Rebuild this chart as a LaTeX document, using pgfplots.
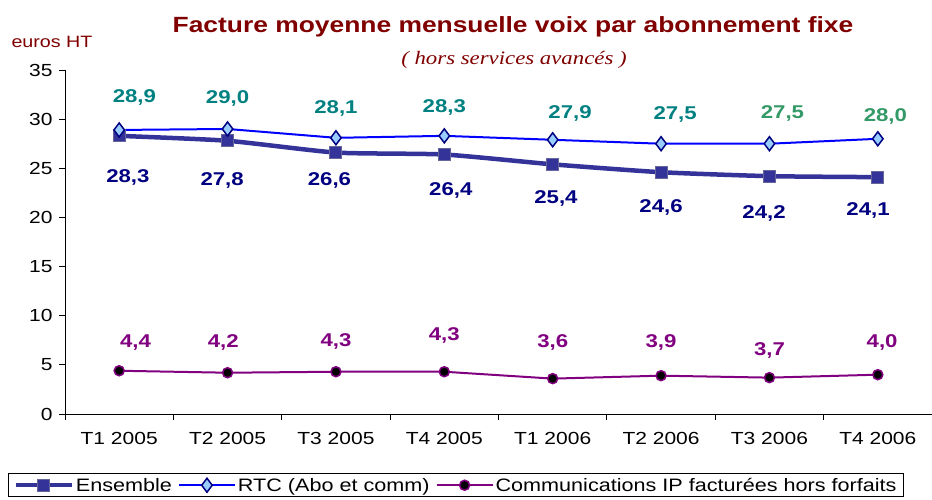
\documentclass[border=0pt]{standalone}
\usepackage{fontspec}
\setmainfont{Liberation Sans}[FakeStretch=1.2]
\newfontfamily\subfont{Liberation Serif}[FakeStretch=1.2]
\usepackage{pgfplots}
\pgfplotsset{compat=1.18}

\definecolor{ensline}{HTML}{333399}
\definecolor{ensedge}{HTML}{666699}
\definecolor{rtcline}{HTML}{0000FF}
\definecolor{rtcfill}{HTML}{99CCFF}
\definecolor{navy}{HTML}{000080}
\definecolor{ipline}{HTML}{800080}
\definecolor{teal}{HTML}{008080}
\definecolor{seagreen}{HTML}{339966}
\definecolor{titlered}{HTML}{800000}

\pgfplotsset{
  legend image code/.code={%
    \draw[mark repeat=2,mark phase=2,#1] plot coordinates {(0pt,0pt) (28pt,0pt) (56pt,0pt)};}
}

\newcommand{\lab}[4]{\node[font=\bfseries\fontsize{18.5}{20}\selectfont, text=#4] at (axis cs:#1,#2) {#3};}

\begin{document}
\begin{tikzpicture}
\path[use as bounding box] (0,0) rectangle (932pt,499pt);

\node[font=\bfseries\fontsize{22}{24}\selectfont, text=titlered] at (513pt,472pt)
  {Facture moyenne mensuelle voix par abonnement fixe};
\node[font=\subfont\itshape\fontsize{19}{21}\selectfont, text=titlered] at (514pt,439pt)
  {( hors services avancés )};
\node[font=\fontsize{16.4}{18}\selectfont, text=titlered] at (52pt,457pt) {euros HT};

\begin{axis}[
  at={(65pt,85pt)}, anchor=south west,
  scale only axis, width=867pt, height=344pt,
  xmin=-0.5, xmax=7.5, ymin=0, ymax=35,
  axis lines*=left,
  axis line style={black, line width=0.8pt, -},
  xtick={0,...,7},
  xticklabels={T1 2005,T2 2005,T3 2005,T4 2005,T1 2006,T2 2006,T3 2006,T4 2006},
  major x tick style={draw=none},
  minor xtick={-0.5,0.5,...,7.5},
  minor x tick style={black, line width=0.8pt},
  minor tick length=6pt,
  ytick={0,5,...,35},
  major tick length=6pt,
  y tick style={black, line width=0.8pt},
  tick align=outside,
  tick label style={font=\fontsize{17.5}{19}\selectfont},
  /pgf/number format/assume math mode=true,
  xticklabel style={yshift=-9pt},
  yticklabel style={xshift=-3pt},
  legend columns=3,
  legend cell align=left,
  legend style={at={(-0.0657,-0.2413)}, anchor=south west,
    draw=black, line width=0.8pt, font=\fontsize{18}{20}\selectfont,
    inner xsep=5pt, inner ysep=2pt,
    /tikz/every even column/.append style={column sep=4pt}},
]
\addplot[ensline, line width=4.5pt, smooth, tension=0.35,
  mark=square*, mark size=6pt,
  mark options={fill=ensline, draw=ensedge, line width=1pt}]
  coordinates {(0,28.3) (1,27.8) (2,26.6) (3,26.4) (4,25.4) (5,24.6) (6,24.2) (7,24.1)};
\addlegendentry{Ensemble}
\addplot[rtcline, line width=2pt,
  mark=diamond*, mark size=7pt,
  mark options={fill=rtcfill, draw=navy, line width=1.5pt}]
  coordinates {(0,28.9) (1,29.0) (2,28.1) (3,28.3) (4,27.9) (5,27.5) (6,27.5) (7,28.0)};
\addlegendentry{RTC (Abo et comm)}
\addplot[ipline, line width=2pt,
  mark=*, mark size=5pt,
  mark options={fill=black, draw=ipline, line width=1.5pt}]
  coordinates {(0,4.4) (1,4.2) (2,4.3) (3,4.3) (4,3.6) (5,3.9) (6,3.7) (7,4.0)};
\addlegendentry{Communications IP facturées hors forfaits}

% RTC labels
\lab{0.14}{32.2}{28,9}{teal}
\lab{1.0}{32.1}{29,0}{teal}
\lab{2.0}{31.1}{28,1}{teal}
\lab{3.0}{31.2}{28,3}{teal}
\lab{4.16}{30.6}{27,9}{teal}
\lab{5.13}{30.5}{27,5}{teal}
\lab{6.12}{30.6}{27,5}{seagreen}
\lab{7.07}{30.3}{28,0}{seagreen}
% Ensemble labels
\lab{0.08}{24.1}{28,3}{navy}
\lab{0.95}{23.8}{27,8}{navy}
\lab{1.94}{23.75}{26,6}{navy}
\lab{3.06}{22.7}{26,4}{navy}
\lab{4.03}{21.9}{25,4}{navy}
\lab{5.0}{21.0}{24,6}{navy}
\lab{5.95}{20.4}{24,2}{navy}
\lab{6.91}{20.7}{24,1}{navy}
% IP labels
\lab{0.15}{7.25}{4,4}{ipline}
\lab{0.96}{7.25}{4,2}{ipline}
\lab{2.0}{7.4}{4,3}{ipline}
\lab{3.0}{8.0}{4,3}{ipline}
\lab{4.0}{7.25}{3,6}{ipline}
\lab{5.0}{7.3}{3,9}{ipline}
\lab{6.0}{6.5}{3,7}{ipline}
\lab{7.04}{7.3}{4,0}{ipline}
\end{axis}
\end{tikzpicture}
\end{document}
